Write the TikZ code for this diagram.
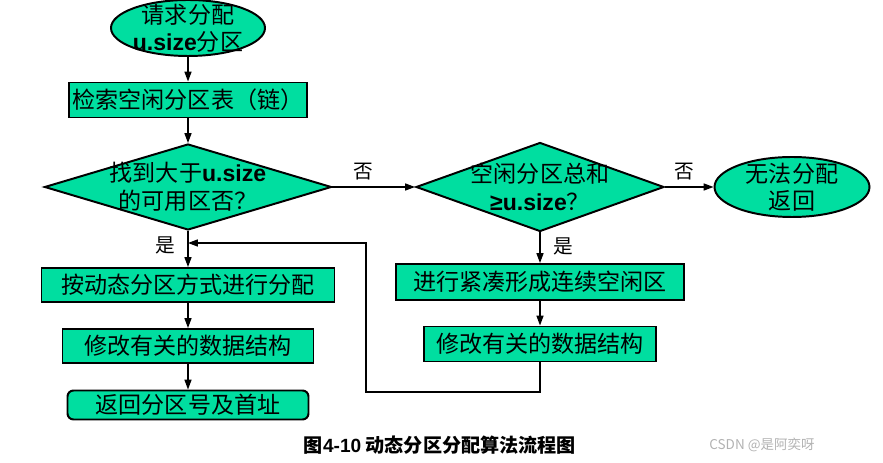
\documentclass[tikz,border=0pt]{standalone}
\usepackage{fontspec}
\setmainfont{Noto Sans CJK SC}
\newfontfamily\arialfont{Liberation Sans}
\usetikzlibrary{shapes.geometric,arrows.meta}
\definecolor{mint}{RGB}{0,222,160}
\newcommand{\usize}{{\arialfont\bfseries u.size}}
\newcommand{\atleast}{{\arialfont\bfseries ≥}}

\tikzset{
	flowtext/.style={font=\fontsize{16.4}{19.5}\selectfont, align=center},
	box/.style={draw, rectangle, fill=mint, line width=1.4pt, inner sep=0pt, flowtext},
	roundbox/.style={box, rounded corners=0.15cm},
	decision/.style={draw, diamond, fill=mint, line width=1.4pt, inner sep=0pt},
	terminal/.style={draw, ellipse, fill=mint, line width=1.4pt, inner sep=0pt},
	arrow/.style={-{Triangle[length=7pt,width=5pt]}, line width=0.9pt},
	answer/.style={font=\fontsize{14}{16}\selectfont}
}

\begin{document}
\begin{tikzpicture}
	\useasboundingbox (0,0) rectangle (22.075,11.575);

	% linke Spalte
	\node [terminal, minimum width=3.85cm, minimum height=1.4cm,
		label={[flowtext]center:{请求分配\\\usize 分区}}] (start) at (4.7,10.875) {};
	\node [box, minimum width=5.95cm, minimum height=0.875cm] (search) at (4.7,9.075) {检索空闲分区表（链）};
	\node [decision, minimum width=7.175cm, minimum height=2.15cm,
		label={[flowtext]center:{找到大于\usize\\的可用区否？}}] (found) at (4.7,6.9) {};
	\node [box, minimum width=7.325cm, minimum height=0.85cm] (alloc) at (4.7,4.45) {按动态分区方式进行分配};
	\node [box, minimum width=6.275cm, minimum height=0.85cm] (updl) at (4.7,2.925) {修改有关的数据结构};
	\node [roundbox, minimum width=6.025cm, minimum height=0.725cm] (ret) at (4.7,1.45) {返回分区号及首址};

	% rechte Spalte
	\node [decision, minimum width=6.2cm, minimum height=2.225cm,
		label={[flowtext]center:{空闲分区总和\\\atleast\usize？}}] (total) at (13.5,6.9) {};
	\node [terminal, minimum width=3.875cm, minimum height=1.5cm,
		label={[flowtext]center:{无法分配\\返回}}] (fail) at (19.8,6.9) {};
	\node [box, minimum width=7.2cm, minimum height=0.9cm] (compact) at (13.5,4.525) {进行紧凑形成连续空闲区};
	\node [box, minimum width=5.8cm, minimum height=0.875cm] (updr) at (13.5,2.975) {修改有关的数据结构};

	% Pfeile
	\draw [arrow] (start) -- (search);
	\draw [arrow] (search) -- (found);
	\draw [arrow] (found) -- (alloc) node [answer, left=5pt, pos=0.4] {是};
	\draw [arrow] (alloc) -- (updl);
	\draw [arrow] (updl) -- (ret);
	\draw [arrow] (found) -- (total) node [answer, above=1pt, pos=0.37] {否};
	\draw [arrow] (total) -- (fail) node [answer, above=1pt, pos=0.4] {否};
	\draw [arrow] (total) -- (compact) node [answer, right=6pt, pos=0.45] {是};
	\draw [arrow] (compact) -- (updr);

	% Ruecksprung
	\coordinate (turn) at (9.15,1.775);
	\coordinate (join) at (4.7,5.5);
	\draw [arrow] (updr.south) |- (turn) |- (join);

	% Text
	\node [font=\fontsize{13.6}{15}\selectfont\bfseries] (caption) at (11.0,0.45) {图{\arialfont 4-10} 动态分区分配算法流程图};
	\node [font=\fontsize{9.6}{12}\selectfont, text=black!30] (mark) at (19.05,0.45) {CSDN @是阿奕呀};

\end{tikzpicture}
\end{document}
